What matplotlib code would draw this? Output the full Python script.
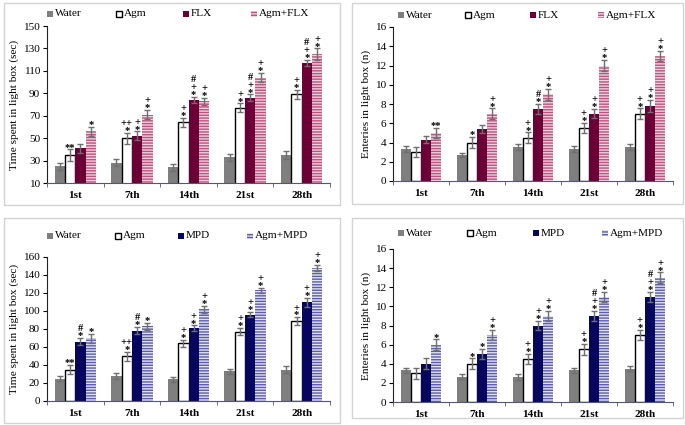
import matplotlib
matplotlib.use("Agg")
import matplotlib.pyplot as plt
from matplotlib.patches import Rectangle
from matplotlib.textpath import TextPath
from matplotlib.font_manager import FontProperties
import numpy as np

plt.rcParams['font.family'] = ['Liberation Serif', 'DejaVu Serif']
plt.rcParams['hatch.linewidth'] = 1.0

days = ['1st', '7th', '14th', '21st', '28th']

# ---- Panel A: time in light box, FLX ----
time_flx_water = [25, 28, 24, 33, 35]
time_flx_agm = [35, 50, 64, 77, 89]
time_flx_drug = [41, 52, 84, 86, 117]
time_flx_combo = [56, 71, 83, 104, 125]
time_flx_water_err = [3, 3, 3, 3, 3.5]
time_flx_agm_err = [5, 5, 4, 4, 4]
time_flx_drug_err = [4, 4, 3, 3, 3]
time_flx_combo_err = [4, 4, 3, 4, 5]
time_flx_agm_sig = [['**'], ['*', '++'], ['*', '+'], ['*', '+'], ['*', '+']]
time_flx_drug_sig = [[], ['*', '+'], ['*', '+', '#'], ['*', '+', '#'], ['*', '+', '#']]
time_flx_combo_sig = [['*'], ['*', '+'], ['*', '+'], ['*', '+'], ['*', '+']]

# ---- Panel B: entries in light box, FLX ----
ent_flx_water = [3.35, 2.7, 3.5, 3.35, 3.5]
ent_flx_agm = [3.0, 4.0, 4.5, 5.5, 7.0]
ent_flx_drug = [4.3, 5.4, 7.5, 7.0, 7.8]
ent_flx_combo = [5.0, 7.0, 9.0, 12.0, 13.0]
ent_flx_water_err = [0.3, 0.25, 0.3, 0.3, 0.3]
ent_flx_agm_err = [0.55, 0.6, 0.55, 0.55, 0.55]
ent_flx_drug_err = [0.4, 0.4, 0.55, 0.45, 0.65]
ent_flx_combo_err = [0.55, 0.55, 0.6, 0.55, 0.55]
ent_flx_agm_sig = [[], ['*'], ['*', '+'], ['*', '+'], ['*', '+']]
ent_flx_drug_sig = [[], [], ['*', '#'], ['*', '+'], ['*', '+']]
ent_flx_combo_sig = [['**'], ['*', '+'], ['*', '+'], ['*', '+'], ['*', '+']]

# ---- Panel C: time in light box, MPD ----
time_mpd_water = [25, 28, 24, 33, 35]
time_mpd_agm = [35, 50, 64, 77, 89]
time_mpd_drug = [66, 78, 81, 96, 110]
time_mpd_combo = [70, 83, 102, 123, 148]
time_mpd_water_err = [3, 3, 3, 3, 3.5]
time_mpd_agm_err = [5, 5, 4, 4, 4]
time_mpd_drug_err = [4, 4, 3, 3, 5]
time_mpd_combo_err = [5, 4, 4, 3, 3]
time_mpd_agm_sig = [['**'], ['*', '++'], ['*', '+'], ['*', '+'], ['*', '+']]
time_mpd_drug_sig = [['*', '#'], ['*', '#'], ['*', '+'], ['*', '+'], ['*', '+']]
time_mpd_combo_sig = [['*'], ['*'], ['*', '+'], ['*', '+'], ['*', '+']]

# ---- Panel D: entries in light box, MPD ----
ent_mpd_water = [3.3, 2.65, 2.65, 3.3, 3.5]
ent_mpd_agm = [3.0, 4.0, 4.5, 5.5, 7.0]
ent_mpd_drug = [4.0, 5.0, 8.0, 9.0, 11.0]
ent_mpd_combo = [6.0, 7.0, 9.0, 11.0, 13.0]
ent_mpd_water_err = [0.25, 0.25, 0.3, 0.25, 0.3]
ent_mpd_agm_err = [0.55, 0.55, 0.55, 0.55, 0.55]
ent_mpd_drug_err = [0.55, 0.55, 0.5, 0.55, 0.55]
ent_mpd_combo_err = [0.55, 0.55, 0.55, 0.55, 0.55]
ent_mpd_agm_sig = [[], ['*'], ['*', '+'], ['*', '+'], ['*', '+']]
ent_mpd_drug_sig = [[], ['*'], ['*', '+'], ['*', '+', '#'], ['*', '+', '#']]
ent_mpd_combo_sig = [['*'], ['*', '+'], ['*', '+'], ['*', '+'], ['*', '+']]

W, H = 685, 425
fig = plt.figure(figsize=(W / 100, H / 100), dpi=100)

FS = 7.6
SIG_FS = 7.6
EM = SIG_FS * 100 / 72  # font size in pixels
SIG_PROP = FontProperties(family='Liberation Serif', weight='bold')


def glyph_centre(s):
    ext = TextPath((0, 0), s, size=EM, prop=SIG_PROP).get_extents()
    return (ext.y0 + ext.y1) / 2


CENTRES = {s: glyph_centre(s) for s in ['*', '+', '#']}
LEVELS = [3.8, 10.3, 18.3]  # visual centres (px) above the error-bar top
GRAY = '#7f7f7f'
ERR = '#6f6f6f'


def fx(x):
    return x / W


def fy(y):
    return 1 - y / H


styles_flx = [
    dict(facecolor=GRAY, edgecolor='none', linewidth=0),
    dict(facecolor='white', edgecolor='black', linewidth=1.0),
    dict(facecolor='#6a0035', edgecolor='none', linewidth=0),
    dict(facecolor='#f3d0de', edgecolor='#b9537f', linewidth=0, hatch='------'),
]
styles_mpd = [
    dict(facecolor=GRAY, edgecolor='none', linewidth=0),
    dict(facecolor='white', edgecolor='black', linewidth=1.0),
    dict(facecolor='#06065e', edgecolor='none', linewidth=0),
    dict(facecolor='#e2e2f4', edgecolor='#5c5ca8', linewidth=0, hatch='------'),
]


def panel(rect_px, box_px, series, errs, sigs, names, styles, ylim, yticks,
          ylabel, legend_x_px, legend_y_px):
    l, t, r, b = rect_px
    bl, bt, br, bb = box_px
    fig.patches.append(Rectangle((fx(bl), fy(bb)), fx(br - bl), (bb - bt) / H,
                                 transform=fig.transFigure, fill=False,
                                 edgecolor='#d4d4d4', linewidth=1.0))
    ax = fig.add_axes([fx(l), fy(b), fx(r - l), (b - t) / H])
    x = np.arange(len(days))
    w = 0.182
    for i, (vals, er, st) in enumerate(zip(series, errs, styles)):
        pos = x + (i - 1.5) * w
        ax.bar(pos, vals, w, zorder=2, **st)
        ax.errorbar(pos, vals, yerr=er, fmt='none', ecolor=ERR, elinewidth=1.0,
                    capsize=2.4, capthick=1.0, zorder=3)
        if sigs[i] is not None:
            for j, syms in enumerate(sigs[i]):
                top = vals[j] + er[j]
                for k, s in enumerate(syms):
                    base = LEVELS[k] - CENTRES[s[0]]
                    ax.annotate(s, (pos[j], top), xytext=(0, base),
                                textcoords='offset pixels', ha='center',
                                va='baseline', fontsize=SIG_FS,
                                fontweight='bold', color='black', zorder=4)
    ax.set_xlim(-0.5, len(days) - 0.5)
    ax.set_ylim(*ylim)
    ax.set_yticks(yticks)
    ax.set_yticklabels([str(v) for v in yticks], fontsize=FS + 0.5)
    ax.set_xticks(x)
    ax.set_xticklabels(days, fontsize=FS + 0.5, fontweight='bold')
    ax.tick_params(axis='x', length=0, pad=6)
    ax.set_xticks(np.arange(-0.5, len(days)), minor=True)
    ax.tick_params(axis='x', which='minor', length=3, direction='out',
                   color='#555577')
    ax.tick_params(axis='y', length=3, direction='out', pad=2)
    for sp in ['top', 'right']:
        ax.spines[sp].set_visible(False)
    ax.spines['left'].set_color('#222222')
    ax.spines['bottom'].set_color('#555577')
    ax.set_ylabel(ylabel, fontsize=FS + 0.5, labelpad=3)
    ax.patch.set_alpha(0)
    for name, st, lx in zip(names, styles, legend_x_px):
        fig.patches.append(Rectangle((fx(lx), fy(legend_y_px + 3)), fx(6), 6 / H,
                                     transform=fig.transFigure, **st))
        fig.text(fx(lx + 8), fy(legend_y_px), name, fontsize=FS + 0.5,
                 va='center', ha='left')
    return ax


panel((47, 26, 330, 183), (4, 3, 340, 205),
      [time_flx_water, time_flx_agm, time_flx_drug, time_flx_combo],
      [time_flx_water_err, time_flx_agm_err, time_flx_drug_err, time_flx_combo_err],
      [None, time_flx_agm_sig, time_flx_drug_sig, time_flx_combo_sig],
      ['Water', 'Agm', 'FLX', 'Agm+FLX'], styles_flx,
      (10, 150), list(range(10, 151, 20)), 'Time spent in light box (sec)',
      [47, 116, 183, 251], 14)

panel((393, 27, 673, 181), (352, 3, 683, 204),
      [ent_flx_water, ent_flx_agm, ent_flx_drug, ent_flx_combo],
      [ent_flx_water_err, ent_flx_agm_err, ent_flx_drug_err, ent_flx_combo_err],
      [None, ent_flx_agm_sig, ent_flx_drug_sig, ent_flx_combo_sig],
      ['Water', 'Agm', 'FLX', 'Agm+FLX'], styles_flx,
      (0, 16), list(range(0, 17, 2)), 'Enteries in light box (n)',
      [398, 465, 530, 598], 15)

panel((47, 257, 330, 401), (4, 218, 340, 423),
      [time_mpd_water, time_mpd_agm, time_mpd_drug, time_mpd_combo],
      [time_mpd_water_err, time_mpd_agm_err, time_mpd_drug_err, time_mpd_combo_err],
      [None, time_mpd_agm_sig, time_mpd_drug_sig, time_mpd_combo_sig],
      ['Water', 'Agm', 'MPD', 'Agm+MPD'], styles_mpd,
      (0, 160), list(range(0, 161, 20)), 'Time spent in light box (sec)',
      [47, 115, 178, 247], 236)

panel((393, 249, 673, 402), (352, 218, 683, 418),
      [ent_mpd_water, ent_mpd_agm, ent_mpd_drug, ent_mpd_combo],
      [ent_mpd_water_err, ent_mpd_agm_err, ent_mpd_drug_err, ent_mpd_combo_err],
      [None, ent_mpd_agm_sig, ent_mpd_drug_sig, ent_mpd_combo_sig],
      ['Water', 'Agm', 'MPD', 'Agm+MPD'], styles_mpd,
      (0, 16), list(range(0, 17, 2)), 'Enteries in light box (n)',
      [398, 467, 533, 602], 233)

fig.savefig('out.png', dpi=100)
